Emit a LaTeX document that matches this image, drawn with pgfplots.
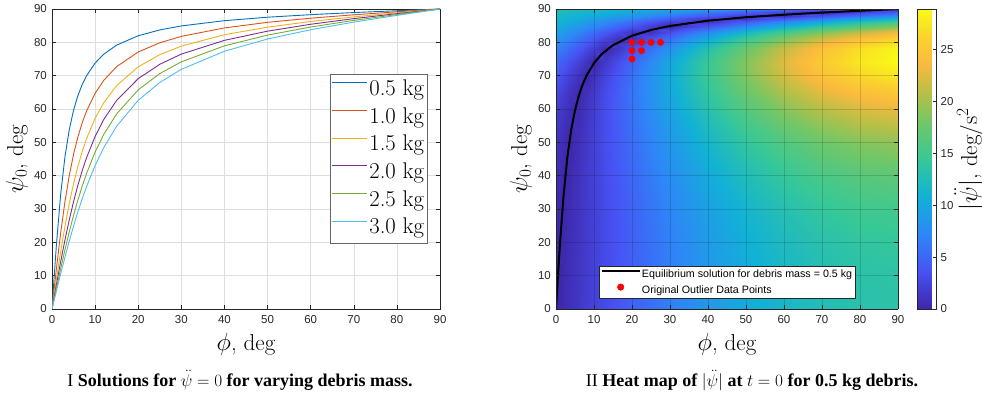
\documentclass[border=0pt]{standalone}
\usepackage{fontspec}
\usepackage{pgfplots}
\pgfplotsset{compat=1.18}
\newfontfamily\helv{Liberation Sans}
\newfontfamily\capfont{Liberation Serif}
\definecolor{cA}{rgb}{0,0.447,0.741}
\definecolor{cB}{rgb}{0.85,0.325,0.098}
\definecolor{cC}{rgb}{0.929,0.694,0.125}
\definecolor{cD}{rgb}{0.494,0.184,0.556}
\definecolor{cE}{rgb}{0.466,0.674,0.188}
\definecolor{cF}{rgb}{0.301,0.745,0.933}
\pgfplotsset{colormap={parulaX}{
 rgb(0pt)=(0.2422,0.1504,0.6603)
 rgb(12.5pt)=(0.2810,0.3228,0.9579)
 rgb(25pt)=(0.1786,0.5289,0.9682)
 rgb(37.5pt)=(0.0689,0.6948,0.8394)
 rgb(50pt)=(0.2161,0.7843,0.5923)
 rgb(62.5pt)=(0.45,0.78,0.40)
 rgb(72pt)=(0.72,0.75,0.28)
 rgb(82pt)=(0.98,0.73,0.24)
 rgb(90pt)=(0.98,0.82,0.18)
 rgb(100pt)=(0.9769,0.9839,0.0805)}}
\pgfplotsset{
 mystyle/.style={
  scale only axis, height=300bp,
  xmin=0,xmax=90,ymin=0,ymax=90,
  xtick={0,10,...,90}, ytick={0,10,...,90},
  axis line style={black!85, line width=0.5bp},
  tick style={black!85, line width=0.5bp}, major tick length=4bp,
  tick label style={black!85, font=\helv\fontsize{11.5bp}{13bp}\selectfont},
  /pgf/number format/assume math mode=true,
  xticklabel style={inner sep=0pt, anchor=north, yshift=-6bp},
  yticklabel style={inner sep=0pt, anchor=east, xshift=-5bp},
  label style={font=\fontsize{23bp}{26bp}\selectfont},
  xlabel={$\phi$, deg}, ylabel={$\psi_0$, deg},
  xlabel style={at={(axis description cs:0.5,0)}, anchor=north, inner sep=0pt, yshift=-24bp},
 }
}
\begin{document}
\begin{tikzpicture}
% ---------------- left panel ----------------
\begin{axis}[mystyle, at={(52bp,85bp)}, anchor=south west, width=388bp,
  grid=major, major grid style={black!13, line width=0.5bp},
  ylabel style={at={(axis description cs:-0.0902,0.5)}, anchor=center, inner sep=0pt},
  legend style={at={(0.969,0.783)}, anchor=north east, draw=black!60, line width=0.6bp,
    inner xsep=2bp, inner ysep=1.5bp, font=\fontsize{22.7bp}{26bp}\selectfont,
    nodes={inner xsep=1.5bp, inner ysep=3.75bp, text height=15.8bp, text depth=4.4bp}},
  legend cell align=left,
  legend image code/.code={\draw[#1] (0bp,7bp) -- (35bp,7bp);},
  every axis plot/.append style={line width=0.9bp}]
\addplot[cA] coordinates {(0,0)(0.5,9.66)(1,18.80)(2,34.25)(3,45.62)(4,53.75)(5,59.62)(6,63.99)(7,67.33)(8,69.95)(10,73.78)(12,76.44)(15,79.17)(20,81.98)(25,83.72)(30,84.92)(40,86.50)(50,87.54)(60,88.30)(70,88.93)(80,89.48)(90,90)};
\addplot[cB] coordinates {(0,0)(0.5,5.98)(1,11.83)(2,22.74)(3,32.17)(4,40.00)(5,46.39)(6,51.59)(7,55.83)(8,59.33)(10,64.70)(12,68.59)(15,72.72)(20,77.10)(25,79.87)(30,81.79)(40,84.33)(50,86.00)(60,87.25)(70,88.26)(80,89.16)(90,90)};
\addplot[cC] coordinates {(0,0)(0.5,4.39)(1,8.73)(2,17.08)(3,24.76)(4,31.61)(5,37.59)(6,42.77)(7,47.22)(8,51.04)(10,57.20)(12,61.87)(15,67.02)(20,72.66)(25,76.30)(30,78.87)(40,82.29)(50,84.55)(60,86.25)(70,87.63)(80,88.85)(90,90)};
\addplot[cD] coordinates {(0,0)(0.5,3.60)(1,7.16)(2,14.11)(3,20.67)(4,26.72)(5,32.21)(6,37.12)(7,41.48)(8,45.34)(10,51.77)(12,56.84)(15,62.60)(20,69.11)(25,73.41)(30,76.47)(40,80.60)(50,83.35)(60,85.42)(70,87.11)(80,88.60)(90,90)};
\addplot[cE] coordinates {(0,0)(0.5,3.05)(1,6.08)(2,12.03)(3,17.73)(4,23.10)(5,28.09)(6,32.67)(7,36.83)(8,40.61)(10,47.09)(12,52.36)(15,58.54)(20,65.75)(25,70.63)(30,74.15)(40,78.95)(50,82.17)(60,84.59)(70,86.59)(80,88.34)(90,90)};
\addplot[cF] coordinates {(0,0)(0.5,2.65)(1,5.29)(2,10.49)(3,15.52)(4,20.34)(5,24.88)(6,29.12)(7,33.06)(8,36.68)(10,43.06)(12,48.41)(15,54.85)(20,62.60)(25,67.97)(30,71.90)(40,77.33)(50,81.00)(60,83.78)(70,86.07)(80,88.09)(90,90)};
\legend{0.5 kg,1.0 kg,1.5 kg,2.0 kg,2.5 kg,3.0 kg}
\end{axis}
% ---------------- right panel ----------------
\begin{axis}[mystyle, at={(556bp,85bp)}, anchor=south west, width=342bp,
  view={0}{90}, ztick=\empty, zmajorgrids=false,
  xmajorgrids, ymajorgrids, major grid style={black, opacity=0.15, line width=0.5bp},
  axis on top,
  ylabel style={at={(axis description cs:-0.1023,0.5)}, anchor=center, inner sep=0pt},
  colormap name=parulaX, point meta min=0, point meta max=28.9,
  colorbar,
  colorbar style={at={(parent axis.north east)}, anchor=north west, xshift=11bp,
    scale only axis, width=19bp, height=300bp,
    ytick={0,5,...,25}, yticklabel pos=right, ytick pos=right,
    axis line style={black!85, line width=0.5bp},
    tick style={black!85, line width=0.5bp}, major tick length=3bp,
    tick label style={black!85, font=\helv\fontsize{11.5bp}{13bp}\selectfont},
    /pgf/number format/assume math mode=true,
    yticklabel style={inner sep=0pt, anchor=west, xshift=4bp},
    ylabel={$|\ddot{\psi}|$, deg/s$^2$},
    ylabel style={at={(axis description cs:2.7,0.5)}, anchor=center, inner sep=0pt,
      font=\fontsize{23bp}{26bp}\selectfont}},
  legend style={at={(0.1257,0.0333)}, anchor=south west, draw=black!85, fill=white, line width=0.6bp,
    inner xsep=1.4bp, inner ysep=0bp, font=\helv\fontsize{10.7bp}{12bp}\selectfont,
    nodes={inner xsep=1.3bp, inner ysep=3bp, text height=7.7bp, text depth=2.3bp}},
  legend cell align=left,
  legend image code/.code={\draw[mark repeat=2,mark phase=2,#1] plot coordinates {(0bp,3.6bp) (19bp,3.6bp) (38bp,3.6bp)};}]
\addplot3[surf, shader=interp, mesh/cols=19, point meta=z, forget plot] coordinates {
(0,0,0) (1,0,0.23) (2,0,0.47) (3,0,0.70) (4,0,0.94) (6,0,1.40) (8,0,1.87) (10,0,2.33) (13,0,3.02) (16,0,3.70) (20,0,4.59) (25,0,5.68) (30,0,6.71) (40,0,8.63) (50,0,10.29) (60,0,11.63) (70,0,12.62) (80,0,13.23) (90,0,13.43)
(0,10,0.12) (1,10,0.11) (2,10,0.35) (3,10,0.59) (4,10,0.83) (6,10,1.30) (8,10,1.77) (10,10,2.24) (13,10,2.94) (16,10,3.63) (20,10,4.54) (25,10,5.64) (30,10,6.70) (40,10,8.66) (50,10,10.35) (60,10,11.73) (70,10,12.75) (80,10,13.38) (90,10,13.61)
(0,20,0.26) (1,20,0.02) (2,20,0.23) (3,20,0.48) (4,20,0.73) (6,20,1.22) (8,20,1.71) (10,20,2.20) (13,20,2.93) (16,20,3.66) (20,20,4.60) (25,20,5.75) (30,20,6.86) (40,20,8.92) (50,20,10.70) (60,20,12.15) (70,20,13.24) (80,20,13.92) (90,20,14.18)
(0,30,0.45) (1,30,0.18) (2,30,0.08) (3,30,0.35) (4,30,0.61) (6,30,1.14) (8,30,1.67) (10,30,2.20) (13,30,2.98) (16,30,3.76) (20,30,4.78) (25,30,6.02) (30,30,7.22) (40,30,9.44) (50,30,11.37) (60,30,12.96) (70,30,14.15) (80,30,14.91) (90,30,15.22)
(0,40,0.73) (1,40,0.43) (2,40,0.14) (3,40,0.16) (4,40,0.45) (6,40,1.04) (8,40,1.63) (10,40,2.21) (13,40,3.09) (16,40,3.95) (20,40,5.08) (25,40,6.47) (30,40,7.80) (40,40,10.28) (50,40,12.45) (60,40,14.24) (70,40,15.59) (80,40,16.48) (90,40,16.86)
(0,50,1.18) (1,50,0.84) (2,50,0.51) (3,50,0.17) (4,50,0.17) (6,50,0.85) (8,50,1.52) (10,50,2.19) (13,50,3.20) (16,50,4.19) (20,50,5.50) (25,50,7.10) (30,50,8.65) (40,50,11.51) (50,50,14.05) (60,50,16.16) (70,50,17.77) (80,50,18.84) (90,50,19.34)
(0,60,2.04) (1,60,1.64) (2,60,1.24) (3,60,0.84) (4,60,0.43) (6,60,0.37) (8,60,1.18) (10,60,1.98) (13,60,3.18) (16,60,4.37) (20,60,5.94) (25,60,7.85) (30,60,9.71) (40,60,13.20) (50,60,16.28) (60,60,18.86) (70,60,20.88) (80,60,22.26) (90,60,22.96)
(0,65,2.77) (1,65,2.33) (2,65,1.89) (3,65,1.45) (4,65,1.01) (6,65,0.12) (8,65,0.76) (10,65,1.65) (13,65,2.97) (16,65,4.28) (20,65,6.02) (25,65,8.14) (30,65,10.21) (40,65,14.08) (50,65,17.53) (60,65,20.45) (70,65,22.74) (80,65,24.35) (90,65,25.21)
(0,70,3.88) (1,70,3.40) (2,70,2.91) (3,70,2.43) (4,70,1.95) (6,70,0.98) (8,70,0.01) (10,70,0.96) (13,70,2.41) (16,70,3.86) (20,70,5.77) (25,70,8.11) (30,70,10.40) (40,70,14.71) (50,70,18.58) (60,70,21.89) (70,70,24.53) (80,70,26.42) (90,70,27.50)
(0,74,5.16) (1,74,4.66) (2,74,4.15) (3,74,3.64) (4,74,3.14) (6,74,2.12) (8,74,1.09) (10,74,0.07) (13,74,1.46) (16,74,2.99) (20,74,5.02) (25,74,7.52) (30,74,9.96) (40,74,14.59) (50,74,18.79) (60,74,22.41) (70,74,25.35) (80,74,27.52) (90,74,28.86)
(0,78,6.92) (1,78,6.42) (2,78,5.91) (3,78,5.41) (4,78,4.90) (6,78,3.88) (8,78,2.86) (10,78,1.83) (13,78,0.29) (16,78,1.25) (20,78,3.31) (25,78,5.85) (30,78,8.35) (40,78,13.13) (50,78,17.52) (60,78,21.37) (70,78,24.58) (80,78,27.03) (90,78,28.67)
(0,81,8.54) (1,81,8.07) (2,81,7.61) (3,81,7.14) (4,81,6.68) (6,81,5.73) (8,81,4.78) (10,81,3.83) (13,81,2.39) (16,81,0.94) (20,81,1.00) (25,81,3.41) (30,81,5.79) (40,81,10.41) (50,81,14.71) (60,81,18.56) (70,81,21.85) (80,81,24.48) (90,81,26.36)
(0,83,9.68) (1,83,9.27) (2,83,8.87) (3,83,8.45) (4,83,8.04) (6,83,7.20) (8,83,6.36) (10,83,5.51) (13,83,4.22) (16,83,2.92) (20,83,1.17) (25,83,1.02) (30,83,3.21) (40,83,7.48) (50,83,11.53) (60,83,15.23) (70,83,18.47) (80,83,21.14) (90,83,23.18)
(0,85,10.76) (1,85,10.44) (2,85,10.11) (3,85,9.78) (4,85,9.45) (6,85,8.78) (8,85,8.10) (10,85,7.41) (13,85,6.35) (16,85,5.28) (20,85,3.83) (25,85,1.99) (30,85,0.14) (40,85,3.56) (50,85,7.14) (60,85,10.52) (70,85,13.57) (80,85,16.21) (90,85,18.35)
(0,86,11.23) (1,86,10.96) (2,86,10.69) (3,86,10.41) (4,86,10.13) (6,86,9.56) (8,86,8.99) (10,86,8.40) (13,86,7.50) (16,86,6.57) (20,86,5.31) (25,86,3.71) (30,86,2.07) (40,86,1.24) (50,86,4.51) (60,86,7.64) (70,86,10.55) (80,86,13.13) (90,86,15.31)
(0,87,11.62) (1,87,11.41) (2,87,11.20) (3,87,10.98) (4,87,10.76) (6,87,10.31) (8,87,9.85) (10,87,9.38) (13,87,8.65) (16,87,7.90) (20,87,6.86) (25,87,5.51) (30,87,4.13) (40,87,1.27) (50,87,1.63) (60,87,4.47) (70,87,7.18) (80,87,9.68) (90,87,11.87)
(0,88,11.92) (1,88,11.77) (2,88,11.63) (3,88,11.48) (4,88,11.32) (6,88,11.00) (8,88,10.67) (10,88,10.33) (13,88,9.79) (16,88,9.22) (20,88,8.42) (25,88,7.37) (30,88,6.26) (40,88,3.91) (50,88,1.44) (60,88,1.07) (70,88,3.55) (80,88,5.92) (90,88,8.12)
(0,89,12.10) (1,89,12.03) (2,89,11.95) (3,89,11.87) (4,89,11.79) (6,89,11.61) (8,89,11.41) (10,89,11.20) (13,89,10.87) (16,89,10.50) (20,89,9.96) (25,89,9.23) (30,89,8.42) (40,89,6.62) (50,89,4.62) (60,89,2.48) (70,89,0.27) (80,89,1.96) (90,89,4.12)
(0,90,12.17) (1,90,12.16) (2,90,12.16) (3,90,12.15) (4,90,12.14) (6,90,12.10) (8,90,12.05) (10,90,11.98) (13,90,11.85) (16,90,11.70) (20,90,11.43) (25,90,11.03) (30,90,10.54) (40,90,9.32) (50,90,7.82) (60,90,6.08) (70,90,4.16) (80,90,2.11) (90,90,0)
};
\addplot3[black, line width=2bp] coordinates {(0,0,0)(0.5,9.66,0)(1,18.80,0)(2,34.25,0)(3,45.62,0)(4,53.75,0)(5,59.62,0)(6,63.99,0)(7,67.33,0)(8,69.95,0)(10,73.78,0)(12,76.44,0)(15,79.17,0)(20,81.98,0)(25,83.72,0)(30,84.92,0)(40,86.50,0)(50,87.54,0)(60,88.30,0)(70,88.93,0)(80,89.48,0)(90,90,0)};
\addlegendentry{Equilibrium solution for debris mass = 0.5 kg}
\addplot3[only marks, mark=*, mark size=3.2bp, color=red, mark options={draw=red, fill=red}] coordinates {(20,80,0)(22.5,80,0)(25,80,0)(27.5,80,0)(20,77.5,0)(22.5,77.5,0)(20,75,0)};
\addlegendentry{Original Outlier Data Points}
\end{axis}
% ---------------- captions ----------------
\node[anchor=base, inner sep=0pt] at (240bp,8bp) {\capfont\fontsize{18bp}{20bp}\selectfont I \textbf{Solutions for $\ddot{\psi} = 0$ for varying debris mass.}};
\node[anchor=base, inner sep=0pt] at (752bp,8bp) {\capfont\fontsize{18bp}{20bp}\selectfont II \textbf{Heat map of $|\ddot{\psi}|$ at $t = 0$ for 0.5 kg debris.}};
\pgfresetboundingbox
\path[use as bounding box] (0bp,0bp) rectangle (982bp,394bp);
\end{tikzpicture}
\end{document}
